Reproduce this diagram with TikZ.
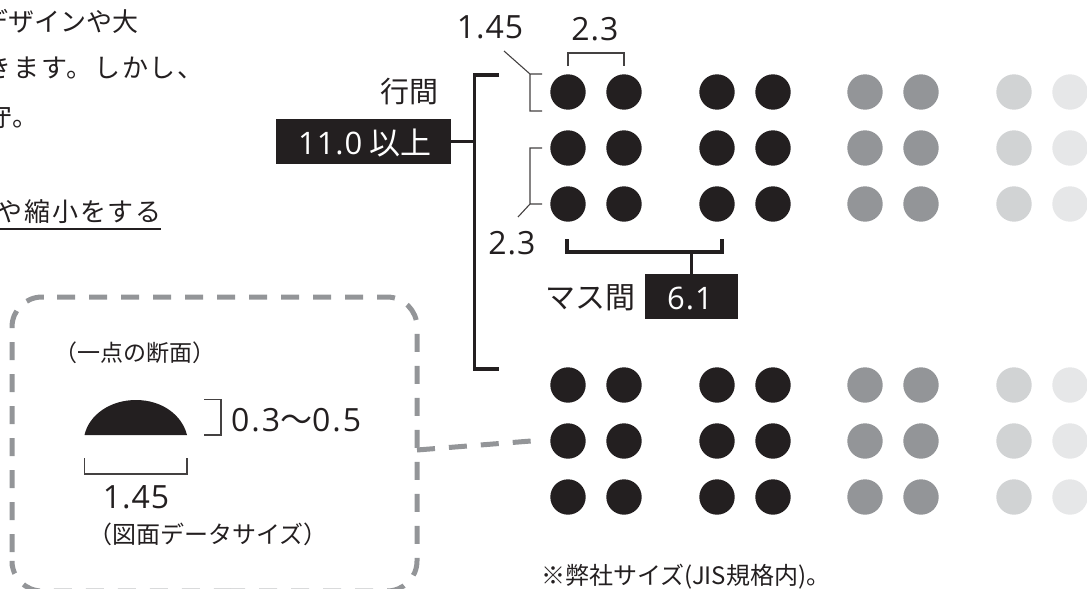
\documentclass[tikz,border=0pt]{standalone}
\usepackage{fontspec}
\setmainfont{Noto Sans CJK JP}
\newfontfamily\num{Open Sans}
\definecolor{ink}{HTML}{231F20}
\definecolor{midg}{HTML}{939598}
\definecolor{lightg}{HTML}{D1D3D4}
\definecolor{paleg}{HTML}{E6E7E8}
\newcommand{\fs}[1]{\fontsize{#1pt}{#1pt}\selectfont}
\tikzset{
  dot/.style={circle,inner sep=0pt,minimum size=35.4pt,fill=#1},
  label/.style={inner sep=0pt,text=ink},
  thin line/.style={draw=ink!85,line width=1.1pt},
  thick line/.style={draw=ink,line width=3.4pt},
  dash line/.style={draw=midg,line width=5pt,dash pattern=on 18pt off 14pt},
  blackbox/.style={fill=ink,inner sep=0pt,text=white}
}
\begin{document}
\begin{tikzpicture}[x=1pt,y=-1pt]
\useasboundingbox (0,0) rectangle (1087,589);
\clip (0,0) rectangle (1087,589);
% cropped body text
\node[label,anchor=east] (t1) at (139,21) {\fs{26}デザインや大};
\node[label,anchor=east] (t2) at (204,68) {\addfontfeature{LetterSpace=7}\fs{26}できます。しかし、};
\node[label,anchor=east] (t3) at (39,117) {\fs{26}守。};
\node[label,anchor=east] (t4) at (162,212) {\addfontfeature{LetterSpace=7}\fs{26}や縮小をする};
\draw[ink,line width=2pt] (0,229) -- (161,229);
% dots
\foreach \yy [count=\r] in {92,148,204,385,441,497}{
  \foreach \xx/\cc [count=\c] in {568/ink,624/ink,717/ink,773/ink,865/midg,921/midg,1014/lightg,1070/paleg}{
    \node[dot=\cc] (d\r-\c) at (\xx,\yy) {};
  }
}
% row spacing bracket
\node[blackbox,minimum width=175pt,minimum height=45pt] (rowbox) at (363.5,141.5) {};
\node[label,text=white,anchor=west] (rowtxt) at (298,143) {\fs{31}{\num\addfontfeature{LetterSpace=3}11.0} 以上};
\node[label] (rowlab) at (409,92) {\fs{29}行間};
\coordinate (bt) at (499,75);
\coordinate (bc) at (474.5,75);
\coordinate (bb) at (474.5,369);
\coordinate (be) at (499,369);
\draw[thick line] (bt) -- (bc) -- (bb) -- (be);
\draw[ink,line width=3pt] (rowbox.east) -- (474.5,141.5);
% dimension 1.45 top
\node[label] (dimA) at (490,27) {\fs{32}\num\addfontfeature{LetterSpace=3}1.45};
\coordinate (a0) at (504,51);
\coordinate (a1) at (530,74);
\coordinate (a2) at (542,74);
\coordinate (a3) at (530,111);
\coordinate (a4) at (542,111);
\draw[thin line] (a0) -- (a1) -- (a2) (a1) -- (a3) -- (a4);
% dimension 2.3 top
\node[label] (dimB) at (595,29) {\fs{32}\num\addfontfeature{LetterSpace=3}2.3};
\coordinate (b1) at (568,66);
\coordinate (b2) at (568,53);
\coordinate (b3) at (624,53);
\coordinate (b4) at (624,66);
\draw[thin line] (b1) -- (b2) -- (b3) -- (b4);
% dimension 2.3 left
\node[label] (dimC) at (512,243) {\fs{32}\num\addfontfeature{LetterSpace=3}2.3};
\coordinate (c1) at (542,148);
\coordinate (c2) at (530,148);
\coordinate (c3) at (530,204);
\coordinate (c4) at (542,204);
\coordinate (c5) at (518,217);
\draw[thin line] (c1) -- (c2) -- (c3) -- (c4) (c3) -- (c5);
% cell spacing
\coordinate (m1) at (567,239);
\coordinate (m2) at (567,252);
\coordinate (m3) at (722,252);
\coordinate (m4) at (722,239);
\coordinate (m5) at (691,252);
\draw[thick line] (m1) -- (m2) -- (m3) -- (m4);
\node[blackbox,minimum width=93pt,minimum height=45pt] (cellbox) at (691.5,296.5) {};
\draw[ink,line width=3pt] (m5) -- (cellbox.north -| m5);
\node[label,text=white] (celltxt) at (690,298) {\fs{31}\num\addfontfeature{LetterSpace=3}6.1};
\node[label] (celllab) at (590,298) {\fs{30}マス間};
% dashed callout
\draw[dash line,rounded corners=30pt] (57,297) -- (417,297) -- (417,591) -- (230,591);
\draw[dash line,rounded corners=30pt] (12,552) -- (12,297) -- (57,297);
\draw[dash line,rounded corners=30pt] (12,566) -- (12,591) -- (230,591);
\coordinate (cal) at (417,450);
\coordinate (calend) at (531,441);
\draw[dash line] (cal) -- (calend);
% section
\node[label] (sec) at (135,353) {\fs{23}（一点の断面）};
\fill[ink] (84.5,435) .. controls (89,415) and (110,400) .. (136,400) .. controls (162,400) and (182,415) .. (187,435) -- cycle;
\coordinate (h1) at (204,399.5);
\coordinate (h2) at (221,399.5);
\coordinate (h3) at (221,435);
\coordinate (h4) at (204,435);
\draw[thin line] (h1) -- (h2) -- (h3) -- (h4);
\node[label,anchor=west] (hval) at (231,420) {\fs{32}{\num\addfontfeature{LetterSpace=6}0.3}〜{\num\addfontfeature{LetterSpace=6}0.5}};
\coordinate (w1) at (84.5,458);
\coordinate (w2) at (84.5,474);
\coordinate (w3) at (187,474);
\coordinate (w4) at (187,458);
\draw[thin line] (w1) -- (w2) -- (w3) -- (w4);
\node[label] (wval) at (136,497) {\fs{32}\num\addfontfeature{LetterSpace=3}1.45};
\node[label] (wcap) at (208,534) {\fs{24}（図面データサイズ）};
\node[label,anchor=west] (note) at (541,577) {\fs{24}※弊社サイズ(JIS規格内)。};
\end{tikzpicture}
\end{document}
